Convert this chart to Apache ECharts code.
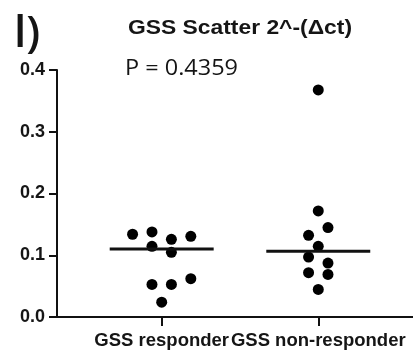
<!DOCTYPE html>
<html>
<head>
<meta charset="utf-8">
<script src="https://cdn.jsdelivr.net/npm/echarts@6/dist/echarts.min.js"></script>
<style>
html,body{margin:0;padding:0;background:#fff;}
#chart{width:413px;height:354px;}
</style>
</head>
<body>
<div id="chart"></div>
<script>
// ---- data ----
const categories = ['GSS responder', 'GSS non-responder'];
const responderValues = [0.134, 0.1377, 0.1144, 0.1258, 0.1047, 0.1307, 0.0528, 0.0528, 0.062, 0.024];
const nonResponderValues = [0.1718, 0.1448, 0.1323, 0.1144, 0.0971, 0.0873, 0.0718, 0.069, 0.0446, 0.3677];
const medians = [0.110, 0.1063];
const yTicks = [0, 0.1, 0.2, 0.3, 0.4];
const titleText = 'GSS Scatter 2^-(\u0394ct)';
const pText = 'P = 0.4359';
const panelLabel = 'l)';

// ---- layout (beeswarm columns, in dot-steps) ----
const swarmColumns = [
  [-3, -1, -1, 1, 1, 3, -1, 1, 3, 0],
  [0, 1, -1, 0, -1, 1, -1, 1, 0, 0]
];
const colStep = 0.062;
const medianHalfWidth = 0.332;
const groups = [responderValues, nonResponderValues];

const ink = '#111';
const textInk = '#151515';

const measureCtx = document.createElement('canvas').getContext('2d');
function fitScale(text, font, target) {
  measureCtx.font = font;
  return target / measureCtx.measureText(text).width;
}

const series = [];
groups.forEach(function (vals, g) {
  const c = g + 1;
  series.push({
    type: 'scatter',
    symbol: 'circle',
    symbolSize: 11,
    itemStyle: { color: '#000', opacity: 1 },
    data: vals.map(function (v, i) { return [c + swarmColumns[g][i] * colStep, v]; }),
    z: 3
  });
  series.push({
    type: 'line',
    symbol: 'none',
    lineStyle: { color: ink, width: 3 },
    data: [[c - medianHalfWidth, medians[g]], [c + medianHalfWidth, medians[g]]],
    z: 4
  });
});

const titleFont = 'bold 20px "Liberation Sans", Arial, sans-serif';
const pFont = '21px "Open Sans", sans-serif';
const panelFont = '600 44px "Open Sans", sans-serif';

const chart = echarts.init(document.getElementById('chart'), null, { renderer: 'canvas' });
chart.setOption({
  animation: false,
  backgroundColor: '#fff',
  grid: { left: 57, right: 0, top: 70, bottom: 37, containLabel: false, outerBoundsMode: 'none' },
  xAxis: {
    type: 'value',
    min: 0.3314,
    max: 2.605,
    splitLine: { show: false },
    axisLine: { show: true, onZero: false, lineStyle: { color: ink, width: 2 } },
    axisTick: { show: true, length: 9, lineStyle: { color: ink, width: 2 }, customValues: [1, 2] },
    axisLabel: {
      customValues: [1, 2],
      formatter: function (v) { return categories[Math.round(v) - 1]; },
      fontFamily: '"Liberation Sans", Arial, sans-serif',
      fontWeight: 'bold',
      fontSize: 18.5,
      color: textInk,
      margin: 14
    }
  },
  yAxis: {
    type: 'value',
    min: yTicks[0],
    max: yTicks[yTicks.length - 1],
    interval: 0.1,
    splitLine: { show: false },
    axisLine: { show: true, lineStyle: { color: ink, width: 2 } },
    axisTick: { show: true, length: 8, lineStyle: { color: ink, width: 2 } },
    axisLabel: {
      formatter: function (v) { return v.toFixed(1); },
      fontFamily: '"Liberation Sans", Arial, sans-serif',
      fontWeight: 'bold',
      fontSize: 18,
      color: textInk,
      margin: 12
    }
  },
  graphic: [
    {
      type: 'text', x: 128, y: 28, scaleX: fitScale(titleText, titleFont, 224),
      style: { text: titleText, font: titleFont, fill: textInk, textAlign: 'left', textVerticalAlign: 'middle' }
    },
    {
      type: 'text', x: 125, y: 69, scaleX: fitScale(pText, pFont, 113),
      style: { text: pText, font: pFont, fill: textInk, textAlign: 'left', textVerticalAlign: 'middle' }
    },
    {
      type: 'text', x: 14, y: 34,
      style: { text: panelLabel, font: panelFont, fill: textInk, textAlign: 'left', textVerticalAlign: 'middle' }
    }
  ],
  series: series
});
</script>
</body>
</html>
